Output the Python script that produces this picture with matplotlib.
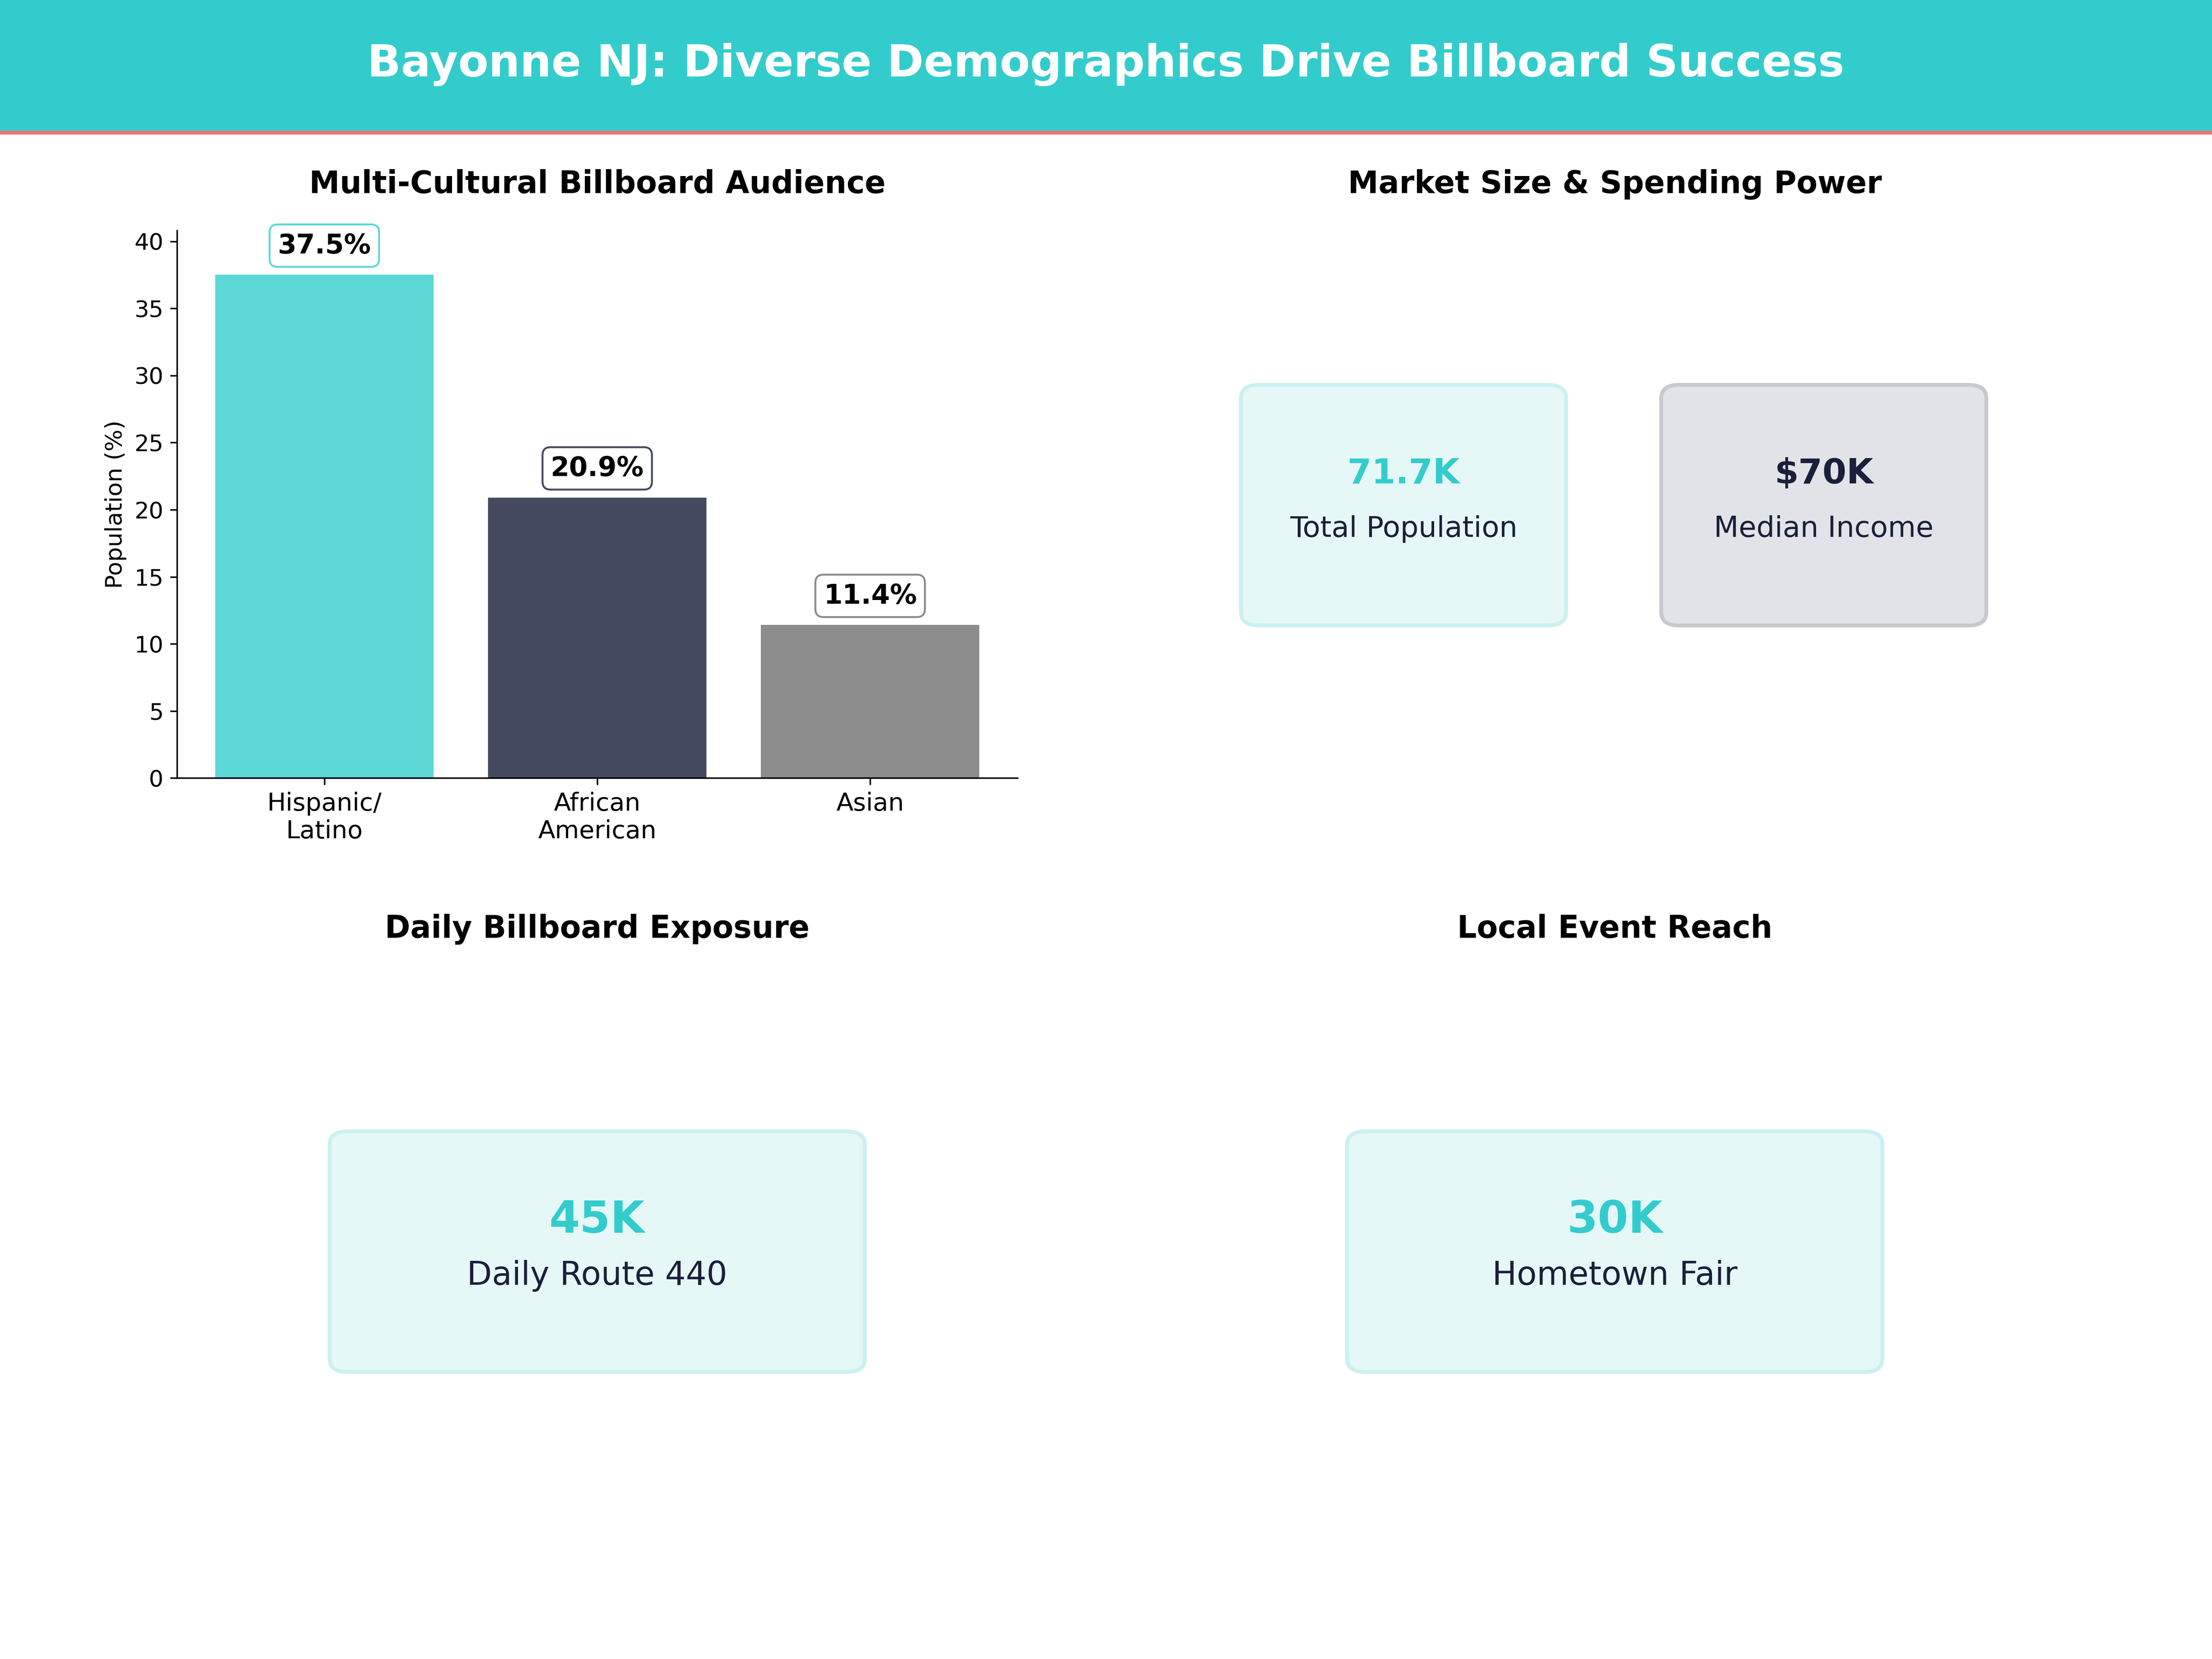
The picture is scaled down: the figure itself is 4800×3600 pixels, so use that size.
import matplotlib.pyplot as plt
from matplotlib.patches import FancyBboxPatch, Rectangle

# Data
GROUPS = ["Hispanic/\nLatino", "African\nAmerican", "Asian"]
SHARES = [37.5, 20.9, 11.4]
BAR_COLORS = ["#5CD9D6", "#464A60", "#8C8C8C"]
LABEL_EDGES = ["#5CD9D6", "#464A60", "#8C8C8C"]

MARKET_VALUES = ["71.7K", "$70K"]
MARKET_LABELS = ["Total Population", "Median Income"]
EXPOSURE_VALUE, EXPOSURE_LABEL = "45K", "Daily Route 440"
EVENT_VALUE, EVENT_LABEL = "30K", "Hometown Fair"

TEAL = "#33CCCC"
DARK = "#1A1F3A"

fig = plt.figure(figsize=(16, 12), dpi=300, facecolor="white")

# Header band
fig.patches.append(Rectangle((0, 0.921), 1, 0.079, transform=fig.transFigure,
                             facecolor=TEAL, edgecolor="none", zorder=0))
fig.patches.append(Rectangle((0, 0.919), 1, 0.002, transform=fig.transFigure,
                             facecolor="#F07070", edgecolor="none", zorder=0))
fig.text(0.5, 0.961, "Bayonne NJ: Diverse Demographics Drive Billboard Success",
         ha="center", va="center", fontsize=23, fontweight="bold", color="white")

# Bar chart
ax = fig.add_axes([0.08, 0.531, 0.38, 0.33])
x = range(len(GROUPS))
ax.bar(x, SHARES, color=BAR_COLORS, width=0.8)
for i, v in enumerate(SHARES):
    ax.text(i, v + 1.2, f"{v}%", ha="center", va="bottom", fontsize=14,
            fontweight="bold",
            bbox=dict(boxstyle="round,pad=0.3", facecolor="white",
                      edgecolor=LABEL_EDGES[i]))
ax.set_xticks(list(x))
ax.set_xticklabels(GROUPS, fontsize=13)
ax.set_ylim(0, 40.8)
ax.set_ylabel("Population (%)", fontsize=12)
ax.tick_params(axis="y", labelsize=12)
ax.spines["top"].set_visible(False)
ax.spines["right"].set_visible(False)

# Panel titles
for tx, ty, t in [(0.27, 0.889, "Multi-Cultural Billboard Audience"),
                  (0.73, 0.889, "Market Size & Spending Power"),
                  (0.27, 0.44, "Daily Billboard Exposure"),
                  (0.73, 0.44, "Local Event Reach")]:
    fig.text(tx, ty, t, ha="center", va="center", fontsize=16, fontweight="bold")


def card(x0, y0, w, h, value, label, face, edge, vcolor, vsize, lsize):
    fig.patches.append(FancyBboxPatch((x0, y0), w, h, transform=fig.transFigure,
                                      boxstyle="round,pad=0,rounding_size=0.008",
                                      facecolor=face, edgecolor=edge, linewidth=2))
    fig.text(x0 + w / 2, y0 + h * 0.63, value, ha="center", va="center",
             fontsize=vsize, fontweight="bold", color=vcolor)
    fig.text(x0 + w / 2, y0 + h * 0.4, label, ha="center", va="center",
             fontsize=lsize, color=DARK)


card(0.561, 0.623, 0.147, 0.145, MARKET_VALUES[0], MARKET_LABELS[0],
     "#E5F7F7", "#CCF0F0", TEAL, 18, 15)
card(0.751, 0.623, 0.147, 0.145, MARKET_VALUES[1], MARKET_LABELS[1],
     "#E2E3E8", "#C8C9CF", DARK, 18, 15)
card(0.149, 0.173, 0.242, 0.145, EXPOSURE_VALUE, EXPOSURE_LABEL,
     "#E5F7F7", "#CCF0F0", TEAL, 23, 17)
card(0.609, 0.173, 0.242, 0.145, EVENT_VALUE, EVENT_LABEL,
     "#E5F7F7", "#CCF0F0", TEAL, 23, 17)

fig.savefig("out.png", dpi=300, facecolor="white")
